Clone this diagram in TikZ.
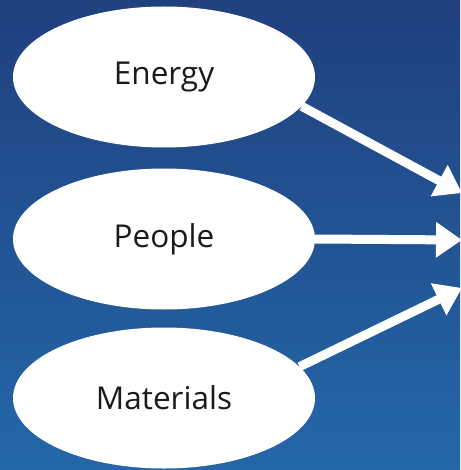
\documentclass[tikz,border=0pt]{standalone}
\usepackage{fontspec}
\setmainfont{Open Sans}
\usetikzlibrary{shapes.geometric,arrows.meta}
\definecolor{bgtop}{HTML}{21407E}
\definecolor{bgbot}{HTML}{2367A9}
\definecolor{txt}{HTML}{1A1A1A}
\tikzset{
  oval/.style={ellipse, fill=white, draw=none, minimum width=302pt, minimum height=141pt, inner sep=0pt, text=txt, font=\fontsize{31.5}{36}\selectfont},
  flow/.style={draw=white, line width=9pt, -{Triangle[length=26pt,width=34pt]}, shorten >=0pt}
}
\begin{document}
\begin{tikzpicture}[x=1pt,y=-1pt]
\useasboundingbox (0,0) rectangle (460,470);
\shade[top color=bgtop, bottom color=bgbot] (0,0) rectangle (460,470);
\node[oval] (E) at (164,77) {Energy};
\node[oval] (P) at (164,239) {People};
\node[oval] (M) at (164,398) {Materials};
\coordinate (t1) at (462,193);
\coordinate (t2) at (462,240);
\coordinate (t3) at (462,288);
\draw[flow] (E.-12) -- (t1);
\draw[flow] (P.east) -- (t2);
\draw[flow] (M.13) -- (t3);
\end{tikzpicture}
\end{document}
